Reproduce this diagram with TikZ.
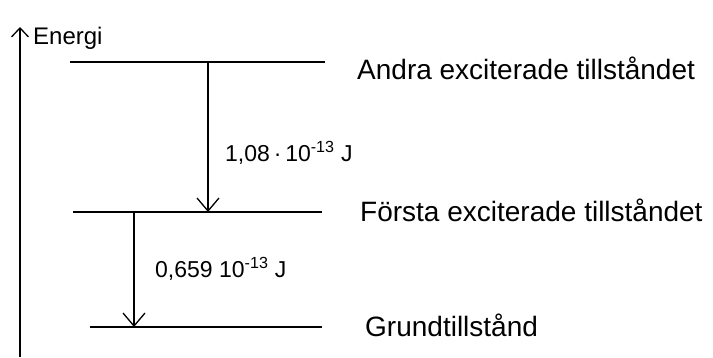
\documentclass[tikz,border=0pt]{standalone}
\usepackage{fontspec}
\setmainfont{Liberation Sans}
\usetikzlibrary{arrows.meta}
\begin{document}
\begin{tikzpicture}[x=1pt,y=-1pt,
  level/.style={line width=1.3pt},
  trans/.style={line width=1.2pt,-{Straight Barb[length=13pt,width=22pt,line width=1.3pt]}},
  lbl/.style={anchor=west,font=\fontsize{28}{32}\selectfont,inner sep=0pt},
  elbl/.style={anchor=west,font=\fontsize{23}{26}\selectfont,inner sep=0pt}]
\useasboundingbox (0,0) rectangle (713,357);
% axis
\coordinate (axB) at (20,357);
\coordinate (axT) at (20,27);
\draw[line width=1.2pt,-{Straight Barb[length=9pt,width=17pt,line width=1.3pt]}] (axB) -- (axT);
\node[anchor=west,inner sep=0pt,font=\fontsize{24}{28}\selectfont] (en) at (33,38) {Energi};
% levels
\coordinate (l2a) at (70,62); \coordinate (l2b) at (325,62);
\coordinate (l1a) at (73,212); \coordinate (l1b) at (322,212);
\coordinate (l0a) at (90,327); \coordinate (l0b) at (322,327);
\draw[level] (l2a) -- (l2b);
\draw[level] (l1a) -- (l1b);
\draw[level] (l0a) -- (l0b);
% transitions
\coordinate (t1s) at (208,62); \coordinate (t1e) at (208,212);
\coordinate (t2s) at (134,212); \coordinate (t2e) at (134,327);
\draw[trans] (t1s) -- (t1e);
\draw[trans] (t2s) -- (t2e);
\node[elbl] (e1) at (225,153) {1,08\,·\,10\textsuperscript{-13} J};
\node[elbl] (e2) at (155,269) {0,659 10\textsuperscript{-13} J};
% state names
\node[lbl] (s2) at (357,68) {Andra exciterade tillståndet};
\node[lbl] (s1) at (360,210) {Första exciterade tillståndet};
\node[lbl] (s0) at (365,325) {Grundtillstånd};
\end{tikzpicture}
\end{document}
